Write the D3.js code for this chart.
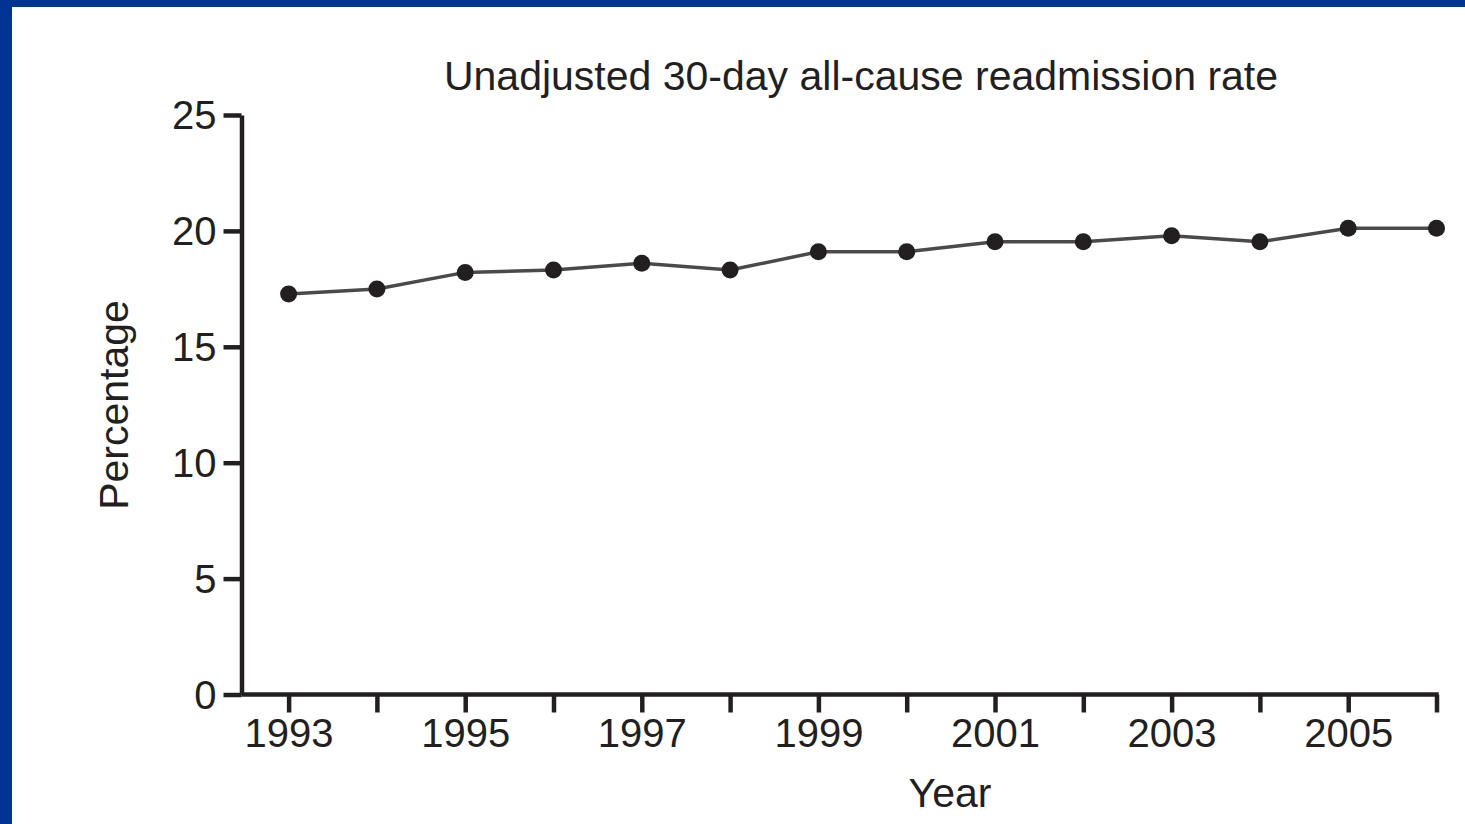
<!DOCTYPE html>
<html>
<head>
<meta charset="utf-8">
<script src="https://cdn.jsdelivr.net/npm/d3@7"></script>
<style>
  html, body { margin: 0; padding: 0; background: #fff; }
  svg { display: block; }
  text { font-family: "Liberation Sans", Arial, Helvetica, sans-serif; fill: #231f20; }
</style>
</head>
<body>
<svg id="chart" width="1465" height="824"></svg>
<script>
// ---- data ----
const years = [1993, 1994, 1995, 1996, 1997, 1998, 1999, 2000, 2001, 2002, 2003, 2004, 2005, 2006];
const rates = [17.28, 17.49, 18.21, 18.31, 18.60, 18.31, 19.10, 19.10, 19.53, 19.53, 19.79, 19.53, 20.11, 20.11];
const yTicks = [0, 5, 10, 15, 20, 25];
const xLabelYears = [1993, 1995, 1997, 1999, 2001, 2003, 2005];
const titleText = "Unadjusted 30-day all-cause readmission rate";
const xTitle = "Year";
const yTitle = "Percentage";

// ---- drawing ----
const svg = d3.select("#chart");
const ink = "#231f20";

// frame
svg.append("rect").attr("x", 0).attr("y", 0).attr("width", 1465).attr("height", 824).attr("fill", "#fff");
svg.append("rect").attr("x", 0).attr("y", 0).attr("width", 12).attr("height", 824).attr("fill", "#003393");
svg.append("rect").attr("x", 0).attr("y", 0).attr("width", 1465).attr("height", 7).attr("fill", "#003393");

const x = d3.scaleLinear().domain([1993, 2006]).range([288.6, 1436.5]);
const y = d3.scaleLinear().domain([0, 25]).range([694.5, 115]);
const axisX0 = 241.5;

// y axis
const yAxis = d3.axisLeft(y).tickValues(yTicks).tickSize(18).tickSizeOuter(0).tickPadding(7).tickFormat(d3.format("d"));
const gy = svg.append("g").attr("transform", `translate(${axisX0},0)`).call(yAxis);
gy.select(".domain").attr("stroke", ink).attr("stroke-width", 4.5);
gy.selectAll(".tick line").attr("stroke", ink).attr("stroke-width", 4.5);
gy.selectAll(".tick text").attr("font-size", 40).attr("fill", ink)
  .attr("font-family", '"Liberation Sans", Arial, sans-serif').attr("dy", "0.34em");

// x axis
const xAxis = d3.axisBottom(x).tickValues(years).tickSize(18).tickSizeOuter(0).tickPadding(6)
  .tickFormat(d => xLabelYears.includes(d) ? String(d) : "");
const gx = svg.append("g").attr("transform", `translate(0,${y(0)})`).call(xAxis);
gx.select(".domain").attr("d", `M${axisX0},0H${x(2006) + 2.2}`).attr("stroke", ink).attr("stroke-width", 4.5);
gx.selectAll(".tick line").attr("stroke", ink).attr("stroke-width", 4.5);
gx.selectAll(".tick text").attr("font-size", 40).attr("fill", ink)
  .attr("font-family", '"Liberation Sans", Arial, sans-serif');

// line
const data = years.map((yr, i) => ({ yr, v: rates[i] }));
svg.append("path").datum(data)
  .attr("fill", "none").attr("stroke", "#4a4a4a").attr("stroke-width", 3.5)
  .attr("d", d3.line().x(d => x(d.yr)).y(d => y(d.v)));

svg.selectAll("circle.pt").data(data).enter().append("circle")
  .attr("class", "pt")
  .attr("cx", d => x(d.yr)).attr("cy", d => y(d.v))
  .attr("r", 8.5).attr("fill", ink);

// titles
svg.append("text").attr("x", 861).attr("y", 90).attr("text-anchor", "middle")
  .attr("font-size", 41).text(titleText);
svg.append("text").attr("x", 950).attr("y", 807).attr("text-anchor", "middle")
  .attr("font-size", 41).text(xTitle);
svg.append("text").attr("transform", "translate(128,405) rotate(-90)").attr("text-anchor", "middle")
  .attr("font-size", 41).text(yTitle);
</script>
</body>
</html>
